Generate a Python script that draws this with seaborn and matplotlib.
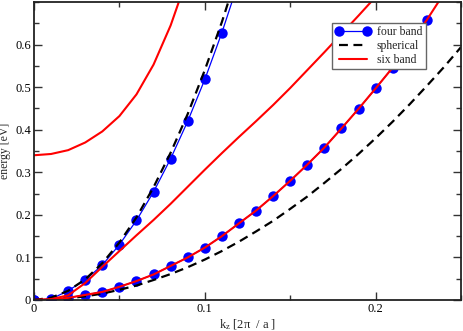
import numpy as np
import pandas as pd
import matplotlib
matplotlib.use("Agg")
import matplotlib.pyplot as plt
import seaborn as sns

# ---- data ----
kz_fb_upper = [0.00, 0.01, 0.02, 0.03, 0.04, 0.05, 0.06, 0.07, 0.08, 0.09, 0.10, 0.11, 0.12]
e_fb_upper = [0.000, 0.002, 0.022, 0.047, 0.082, 0.130, 0.187, 0.254, 0.332, 0.420, 0.518, 0.628, 0.750]

kz_fb_lower = [0.00, 0.01, 0.02, 0.03, 0.04, 0.05, 0.06, 0.07, 0.08, 0.09, 0.10, 0.11,
               0.12, 0.13, 0.14, 0.15, 0.16, 0.17, 0.18, 0.19, 0.20, 0.21, 0.22, 0.23]
e_fb_lower = [0.000, 0.001, 0.005, 0.012, 0.019, 0.031, 0.0445, 0.060, 0.080, 0.100, 0.123, 0.150,
              0.180, 0.210, 0.244, 0.280, 0.318, 0.358, 0.403, 0.449, 0.497, 0.546, 0.600, 0.658]

kz_sph_upper = [0.00, 0.01, 0.02, 0.03, 0.04, 0.05, 0.06, 0.07, 0.08, 0.09, 0.10, 0.11, 0.12]
e_sph_upper = [0.000, 0.0054, 0.0216, 0.0486, 0.0864, 0.135, 0.194, 0.265, 0.346, 0.437, 0.540, 0.653, 0.778]

kz_sph_lower = [0.00, 0.01, 0.02, 0.03, 0.04, 0.05, 0.06, 0.07, 0.08, 0.09, 0.10, 0.11, 0.12,
                0.13, 0.14, 0.15, 0.16, 0.17, 0.18, 0.19, 0.20, 0.21, 0.22, 0.23, 0.24, 0.25]
e_sph_lower = [0.000, 0.001, 0.0038, 0.0086, 0.015, 0.024, 0.034, 0.047, 0.061, 0.077, 0.095, 0.115, 0.137,
               0.161, 0.186, 0.214, 0.243, 0.275, 0.308, 0.343, 0.380, 0.419, 0.460, 0.503, 0.547, 0.594]

kz_sb_so = [0.00, 0.01, 0.02, 0.03, 0.04, 0.05, 0.06, 0.07, 0.08, 0.09]
e_sb_so = [0.340, 0.343, 0.352, 0.370, 0.396, 0.432, 0.483, 0.553, 0.645, 0.760]

kz_sb_lh = [0.00, 0.01, 0.02, 0.03, 0.04, 0.05, 0.06, 0.07, 0.08, 0.09, 0.10,
            0.11, 0.12, 0.13, 0.14, 0.15, 0.16, 0.17, 0.18, 0.19, 0.20]
e_sb_lh = [0.000, 0.002, 0.011, 0.040, 0.078, 0.115, 0.152, 0.188, 0.226, 0.266, 0.306,
           0.345, 0.383, 0.420, 0.458, 0.498, 0.540, 0.582, 0.625, 0.668, 0.712]

kz_sb_hh = kz_fb_lower + [0.24]
e_sb_hh = e_fb_lower + [0.720]

x_ticks = [0.0, 0.1, 0.2]
x_ticklabels = ["0", "0.1", "0.2"]
y_ticks = [0.0, 0.1, 0.2, 0.3, 0.4, 0.5, 0.6]
y_ticklabels = ["0", "0.1", "0.2", "0.3", "0.4", "0.5", "0.6"]

# ---- style ----
sns.set_style("ticks")
plt.rcParams["font.family"] = ["Liberation Serif", "DejaVu Serif"]
plt.rcParams["mathtext.fontset"] = "custom"
plt.rcParams["mathtext.rm"] = "Liberation Serif"
plt.rcParams["mathtext.it"] = "Liberation Serif"

fig = plt.figure(figsize=(4.63, 3.31), dpi=100)
ax = fig.add_axes([34 / 463, 31 / 331, 427 / 463, 298 / 331])

blue = "#0000ff"
red = "#ff0000"

sns.lineplot(x=kz_fb_upper, y=e_fb_upper, ax=ax, color=blue, lw=0.9, marker="o",
             markersize=7.5, markeredgewidth=0, sort=False, estimator=None, label="four band")
sns.lineplot(x=kz_fb_lower, y=e_fb_lower, ax=ax, color=blue, lw=0.9, marker="o",
             markersize=7.5, markeredgewidth=0, sort=False, estimator=None)

sns.lineplot(x=kz_sph_upper, y=e_sph_upper, ax=ax, color="black", lw=1.6,
             dashes=False, sort=False, estimator=None, label="spherical", linestyle=(0, (4, 2.5)))
sns.lineplot(x=kz_sph_lower, y=e_sph_lower, ax=ax, color="black", lw=1.6,
             sort=False, estimator=None, linestyle=(0, (4, 2.5)))

sns.lineplot(x=kz_sb_so, y=e_sb_so, ax=ax, color=red, lw=1.5, sort=False, estimator=None,
             label="six band")
sns.lineplot(x=kz_sb_lh, y=e_sb_lh, ax=ax, color=red, lw=1.5, sort=False, estimator=None)
sns.lineplot(x=kz_sb_hh, y=e_sb_hh, ax=ax, color=red, lw=1.5, sort=False, estimator=None)

ax.set_xlim(0, 0.25)
ax.set_ylim(0, 0.7)
ax.set_xticks(x_ticks)
ax.set_xticklabels(x_ticklabels)
ax.set_yticks(y_ticks)
ax.set_yticklabels(y_ticklabels)
ax.xaxis.set_minor_locator(matplotlib.ticker.MultipleLocator(0.05))
ax.yaxis.set_minor_locator(matplotlib.ticker.MultipleLocator(0.05))
ax.tick_params(which="both", direction="in", top=True, right=True, colors="#333333",
               labelcolor="black", labelsize=9, pad=2)
ax.tick_params(which="major", length=6, width=1)
ax.tick_params(which="minor", length=3.5, width=1)
for s in ax.spines.values():
    s.set_linewidth(1.3)
    s.set_color("#222222")

ax.set_xlabel(r"k$_\mathregular{z}$ [2π  / a ]", fontsize=9, labelpad=2)
ax.set_ylabel("energy [eV]", fontsize=8.5, labelpad=3)

leg = ax.legend(loc="upper left", bbox_to_anchor=(0.698, 0.93), fontsize=8.5,
                frameon=True, fancybox=False, framealpha=1, edgecolor="#666666",
                handlelength=3.0, numpoints=2, borderpad=0.3, labelspacing=0.15,
                handletextpad=0.5, borderaxespad=0)
leg.get_frame().set_linewidth(1.0)

fig.savefig("out.png", dpi=100)
